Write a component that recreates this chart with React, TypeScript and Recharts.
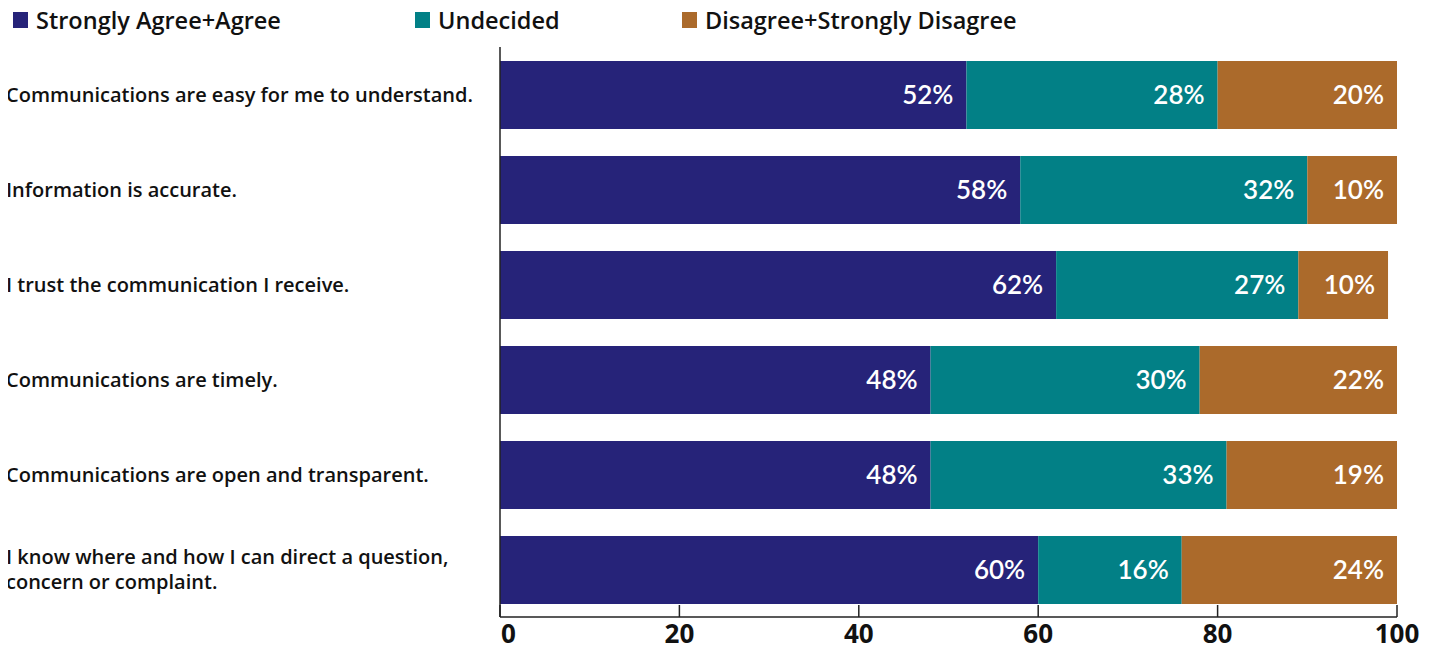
import { BarChart, Bar, XAxis, YAxis, LabelList } from "recharts";

const questions = [
  "Communications are easy for me to understand.",
  "Information is accurate.",
  "I trust the communication I receive.",
  "Communications are timely.",
  "Communications are open and transparent.",
  "I know where and how I can direct a question,\nconcern or complaint.",
];

const agree = [52, 58, 62, 48, 48, 60];
const undecided = [28, 32, 27, 30, 33, 16];
const disagree = [20, 10, 10, 22, 19, 24];

const xTicks = [0, 20, 40, 60, 80, 100];

const SERIES = [
  { key: "agree", name: "Strongly Agree+Agree", color: "#262379", legendX: 13 },
  { key: "undecided", name: "Undecided", color: "#028086", legendX: 415 },
  { key: "disagree", name: "Disagree+Strongly Disagree", color: "#AB6A2B", legendX: 682 },
];

const data = questions.map((q, i) => ({
  label: q,
  agree: agree[i],
  undecided: undecided[i],
  disagree: disagree[i],
}));

const FONT = "'Open Sans', 'Noto Sans', sans-serif";
const NUM_FONT = "Lato, 'Open Sans', sans-serif";

function QuestionTick({ y, payload }: any) {
  const lines = String(payload.value).split("\n");
  const lineH = 25;
  const startY = y + 7 - ((lines.length - 1) * lineH) / 2;
  return (
    <text x={6} y={startY} fill="#111" fontFamily={FONT} fontWeight={600} fontSize={20} textAnchor="start">
      {lines.map((ln, i) => (
        <tspan key={i} x={6} dy={i === 0 ? 0 : lineH}>
          {ln}
        </tspan>
      ))}
    </text>
  );
}

function ScaleTick({ x, y, payload }: any) {
  // tick marks point up into the plot; the 0 label sits just right of the axis
  const first = payload.value === 0;
  return (
    <g>
      <line x1={x} x2={x} y1={y - 12} y2={y} stroke="#222" strokeWidth={1.5} />
      <text
        x={first ? x + 1 : x}
        y={y + 26}
        textAnchor={first ? "start" : "middle"}
        fill="#111"
        fontFamily={FONT}
        fontWeight={700}
        fontSize={26}
      >
        {payload.value}
      </text>
    </g>
  );
}

function TopLegend() {
  return (
    <div style={{ position: "absolute", left: 0, top: 0, width: 1100, height: 40, fontFamily: FONT }}>
      {SERIES.map((s) => (
        <div
          key={s.key}
          style={{ position: "absolute", left: s.legendX, top: 0, display: "flex", alignItems: "center", height: 40 }}
        >
          <span style={{ width: 15, height: 16, background: s.color, display: "inline-block", marginRight: 8 }} />
          <span style={{ fontSize: 23.5, fontWeight: 600, color: "#111" }}>{s.name}</span>
        </div>
      ))}
    </div>
  );
}

export default function App() {
  return (
    <div style={{ position: "relative", margin: "-8px 0 0 -8px", width: 1437, height: 649, background: "#fff" }}>
      <TopLegend />
      <BarChart
        width={1437}
        height={649}
        data={data}
        layout="vertical"
        margin={{ top: 47, right: 40, bottom: 0, left: 0 }}
      >
        <XAxis
          type="number"
          domain={[0, 100]}
          ticks={xTicks}
          height={32}
          axisLine={{ stroke: "#222", strokeWidth: 1.5 }}
          tickLine={false}
          tickSize={0}
          tickMargin={0}
          tick={<ScaleTick />}
          interval={0}
        />
        <YAxis
          type="category"
          dataKey="label"
          width={500}
          axisLine={{ stroke: "#222", strokeWidth: 1.5 }}
          tickLine={false}
          tick={<QuestionTick />}
          interval={0}
        />
        {SERIES.map((s) => (
          <Bar key={s.key} dataKey={s.key} name={s.name} stackId="a" fill={s.color} barSize={68} isAnimationActive={false}>
            <LabelList
              dataKey={s.key}
              position="insideRight"
              offset={13}
              fill="#fff"
              fontFamily={NUM_FONT}
              fontWeight={600}
              fontSize={26}
              formatter={(v: any) => `${v}%`}
            />
          </Bar>
        ))}
      </BarChart>
    </div>
  );
}
